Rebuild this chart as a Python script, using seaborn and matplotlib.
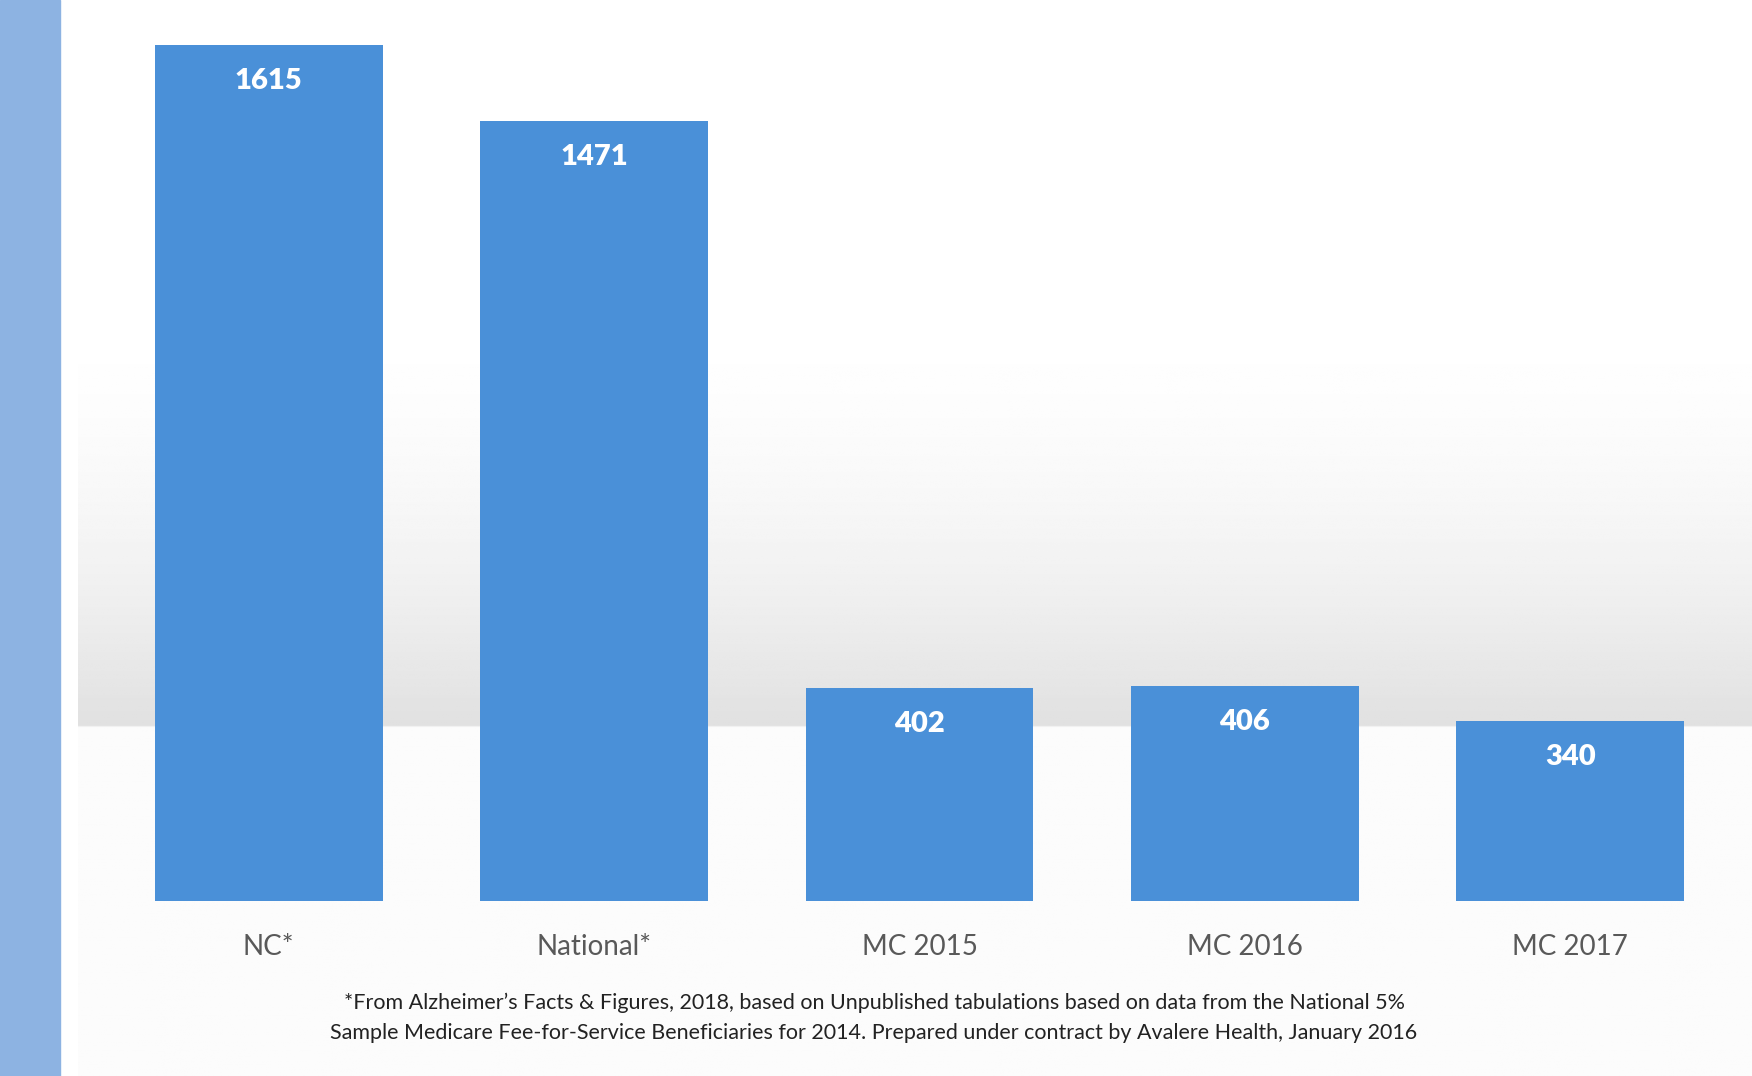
import seaborn as sns
import numpy as np
import pandas as pd
import matplotlib.pyplot as plt
from matplotlib.patches import Rectangle

categories = ['NC*', 'National*', 'MC 2015', 'MC 2016', 'MC 2017']
values = [1615, 1471, 402, 406, 340]
footnote = ("*From Alzheimer\u2019s Facts & Figures, 2018, based on Unpublished tabulations based on data from the National 5%\n"
            "Sample Medicare Fee-for-Service Beneficiaries for 2014. Prepared under contract by Avalere Health, January 2016")

df = pd.DataFrame({'group': categories, 'value': values})

sns.set_style('white')
plt.rcParams['font.family'] = ['Lato', 'DejaVu Sans']

W, H = 1752, 1076
fig = plt.figure(figsize=(W / 100, H / 100), dpi=100)

# soft gray backdrop like the slide
bg = fig.add_axes([78 / W, 0, 1 - 78 / W, 1])
rows = np.linspace(0, 1, 400)
shade = np.ones_like(rows)
band = (rows > 0.28) & (rows < 0.675)
shade[band] = 1 - 0.12 * ((rows[band] - 0.28) / 0.395) ** 1.8
shade[rows >= 0.675] = 0.985
bg.imshow(np.tile(shade[:, None], (1, 10)), cmap='gray', vmin=0, vmax=1,
          aspect='auto', extent=[0, 1, 0, 1], origin='upper')
bg.axis('off')

# left accent strip
fig.patches.append(Rectangle((0, 0), 60 / W, 1, transform=fig.transFigure,
                             color='#8DB3E2', zorder=5))

ax = fig.add_axes([106 / W, 175 / H, 1627 / W, 1 - 175 / H])
ax.patch.set_alpha(0)
sns.barplot(data=df, x='group', y='value', color='#4A90D8', saturation=1,
            width=0.70, linewidth=0, ax=ax)

for i, v in enumerate(values):
    ax.text(i, v - 68, str(v), ha='center', va='center', color='white',
            fontsize=21, fontweight='heavy')

ax.set_xlim(-0.5, 4.5)
ax.set_ylim(0, 1700)
ax.set_xlabel('')
ax.set_ylabel('')
ax.set_yticks([])
ax.tick_params(axis='x', length=0, pad=24, labelsize=20, labelcolor='#595959')
sns.despine(ax=ax, left=True, bottom=True)

fig.text(0.5 - 2 / W, 1 - 1018 / H, footnote, ha='center', va='center',
         fontsize=15.5, color='#222222', linespacing=1.62)

fig.savefig('out.png', dpi=100)
